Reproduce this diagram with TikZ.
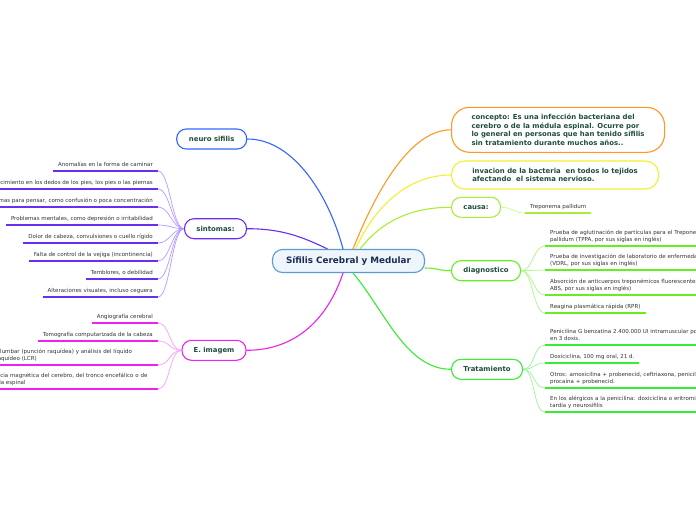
\documentclass[tikz,border=0pt]{standalone}
\usepackage{fontspec}
\setmainfont{DejaVu Sans}
\usetikzlibrary{positioning,calc}
\definecolor{mmnavy}{HTML}{1B2C52}
\definecolor{mmtext}{HTML}{1E4D3B}
\definecolor{mmleaf}{HTML}{333333}
\definecolor{mmcentre}{HTML}{5B9BD5}
\definecolor{mmcentrefill}{HTML}{EEF6FC}
\definecolor{mmblue}{HTML}{3366FF}
\definecolor{mmpurple}{HTML}{6A2EEE}
\definecolor{mmpurplel}{HTML}{B39CFF}
\definecolor{mmmagenta}{HTML}{EE22EE}
\definecolor{mmmagental}{HTML}{FF9CFF}
\definecolor{mmorange}{HTML}{FF9922}
\definecolor{mmyellow}{HTML}{F2F032}
\definecolor{mmlime}{HTML}{AAEE33}
\definecolor{mmlimel}{HTML}{D4F59A}
\definecolor{mmgreen}{HTML}{66EE22}
\definecolor{mmgreenl}{HTML}{B0F58A}
\definecolor{mmtreat}{HTML}{33EE33}
\definecolor{mmtreatl}{HTML}{99F599}

\tikzset{
  centre/.style={draw=mmcentre, line width=1.1pt, fill=mmcentrefill, rounded corners=10pt,
    minimum width=152pt, minimum height=23pt, text=mmnavy,
    font=\fontsize{8.8}{10}\selectfont\bfseries},
  topic/.style={draw=#1, line width=1.1pt, fill=white, rounded corners=9.5pt,
    minimum height=20pt, inner xsep=9pt, text=mmtext,
    font=\fontsize{6.9}{8.6}\selectfont\bfseries},
  leaf/.style={inner xsep=5pt, inner ysep=2.2pt, text=mmleaf,
    font=\fontsize{5.5}{7}\selectfont, execute at end node=\strut},
  leafbox/.style={leaf, text width=#1, align=left},
  uline/.style={draw=#1, line width=2pt},
  twig/.style={draw=#1, line width=0.7pt},
  branch/.style={draw=#1, line width=1.1pt},
}

\begin{document}
\begin{tikzpicture}[x=1pt, y=-1pt]
  \useasboundingbox (0,0) rectangle (696,520);
  \clip (0,0) rectangle (696,520);
  \fill[white] (0,0) rectangle (696,520);

  % centre
  \node[centre] (main) at (348.5,261) {Sífilis Cerebral y Medular};

  % left topics
  \node[topic=mmblue, minimum width=70pt] (neuro) at (211.7,139) {neuro sifilis};
  \node[topic=mmpurple, minimum width=62pt] (sint) at (215.5,228.7) {sintomas:};
  \node[topic=mmmagenta, minimum width=64pt] (imag) at (214,350.3) {E. imagem};

  % right topics
  \node[topic=mmorange, rounded corners=18pt, minimum width=213pt, minimum height=45pt,
    align=left, anchor=west] (conc) at (451,129.8)
    {concepto: Es una infección bacteriana del\\cerebro o de la médula espinal. Ocurre por\\lo general en personas que han tenido sífilis\\sin tratamiento durante muchos años..};
  \node[topic=mmyellow, rounded corners=13pt, minimum width=207pt, minimum height=28pt,
    align=left, anchor=west] (inva) at (451,175)
    {invacion de la bacteria\ \ en todos lo tejidos\\afectando\ \ el sistema nervioso.};
  \node[topic=mmlime, minimum width=49pt, anchor=west] (causa) at (451,207.3) {causa:};
  \node[topic=mmgreen, minimum width=69pt, anchor=west] (diag) at (451,270.7) {diagnostico};
  \node[topic=mmtreat, minimum width=71pt, anchor=west] (trat) at (451,369.3) {Tratamiento};

  % branches
  \draw[branch=mmblue] ([xshift=-5.5pt]main.north) .. controls +(-13,-50) and +(48,0) .. (neuro.east);
  \draw[branch=mmpurple] ([xshift=-21pt]main.north) .. controls +(-25,-12) and +(35,0) .. (sint.east);
  \draw[branch=mmmagenta] ([xshift=-5.5pt]main.south) .. controls +(-15,45) and +(50,0) .. (imag.east);
  \draw[branch=mmorange] ([xshift=4.5pt]main.north) .. controls +(18,-45) and +(-45,0) .. (conc.west);
  \draw[branch=mmyellow] ([xshift=7pt]main.north) .. controls +(18,-40) and +(-45,0) .. (inva.west);
  \draw[branch=mmlime] ([xshift=11.5pt]main.north) .. controls +(22,-28) and +(-40,0) .. (causa.west);
  \draw[branch=mmgreen] ([yshift=-7pt]main.east) .. controls +(12,0) and +(-12,0) .. (diag.west);
  \draw[branch=mmtreat] ([xshift=4.5pt]main.south) .. controls +(32,38) and +(-45,0) .. (trat.west);

  % sintomas
  \foreach \i/\uy/\txt in {1/171/{Anomalías en la forma de caminar},
      2/189/{Entumecimiento en los dedos de los pies, los pies o las piernas},
      3/207/{Problemas para pensar, como confusión o poca concentración},
      4/225/{Problemas mentales, como depresión o irritabilidad},
      5/243/{Dolor de cabeza, convulsiones o cuello rígido},
      6/261/{Falta de control de la vejiga (incontinencia)},
      7/279/{Temblores, o debilidad},
      8/297/{Alteraciones visuales, incluso ceguera}}
  {
    \node[leaf, anchor=south east] (s\i) at (158,\uy) {\txt};
    \draw[twig=mmpurplel] (sint.west) .. controls +(-12,0) and +(12,0) .. (s\i.south east);
    \draw[uline=mmpurple] (s\i.south west) -- (s\i.south east);
  }

  % E. imagem
  \node[leaf, anchor=south east] (e1) at (158,323) {Angiografía cerebral};
  \node[leaf, anchor=south east] (e2) at (158,341) {Tomografía computarizada de la cabeza};
  \node[leafbox=176pt, anchor=south east] (e3) at (158,365)
    {Punción lumbar (punción raquídea) y análisis del líquido\\cefalorraquídeo (LCR)};
  \node[leafbox=176pt, anchor=south east] (e4) at (158,389)
    {Resonancia magnética del cerebro, del tronco encefálico o de\\la médula espinal};
  \foreach \i in {1,...,4} {
    \draw[twig=mmmagental] (imag.west) .. controls +(-12,0) and +(12,0) .. (e\i.south east);
    \draw[uline=mmmagenta] (e\i.south west) -- (e\i.south east);
  }

  % causa
  \node[leaf, anchor=south west] (trep) at (525,213) {Treponema pallidum};
  \draw[twig=mmlimel] (causa.east) .. controls +(12,0) and +(-12,0) .. (trep.south west);
  \draw[uline=mmlime] (trep.south west) -- (trep.south east);

  % diagnostico
  \node[leafbox=230pt, anchor=south west] (d1) at (545,246)
    {Prueba de aglutinación de partículas para el Treponema\\pallidum (TPPA, por sus siglas en inglés)};
  \node[leafbox=230pt, anchor=south west] (d2) at (545,270)
    {Prueba de investigación de laboratorio de enfermedades venéreas\\(VDRL, por sus siglas en inglés)};
  \node[leafbox=230pt, anchor=south west] (d3) at (545,295)
    {Absorción de anticuerpos treponémicos fluorescentes (FTA-\\ABS, por sus siglas en inglés)};
  \node[leaf, anchor=south west] (d4) at (545,313) {Reagina plasmática rápida (RPR)};
  \foreach \i in {1,...,4} {
    \draw[twig=mmgreenl] (diag.east) .. controls +(12,0) and +(-12,0) .. (d\i.south west);
    \draw[uline=mmgreen] (d\i.south west) -- (d\i.south east);
  }

  % tratamiento
  \node[leafbox=230pt, anchor=south west] (t1) at (545,345)
    {Penicilina G benzatina 2.400.000 UI intramuscular por semana,\\en 3 dosis.};
  \node[leaf, anchor=south west] (t2) at (545,363)
    {Doxiciclina, 100 mg oral, 21 d.};
  \node[leafbox=230pt, anchor=south west] (t3) at (545,388)
    {Otros: amoxicilina + probenecid, ceftriaxona, penicilina G\\procaína + probenecid.};
  \node[leafbox=230pt, anchor=south west] (t4) at (545,412)
    {En los alérgicos a la penicilina: doxiciclina o eritromicina. Sífilis\\tardía y neurosífilis};
  \foreach \i in {1,...,4} {
    \draw[twig=mmtreatl] (trat.east) .. controls +(12,0) and +(-12,0) .. (t\i.south west);
    \draw[uline=mmtreat] (t\i.south west) -- (t\i.south east);
  }
\end{tikzpicture}
\end{document}
